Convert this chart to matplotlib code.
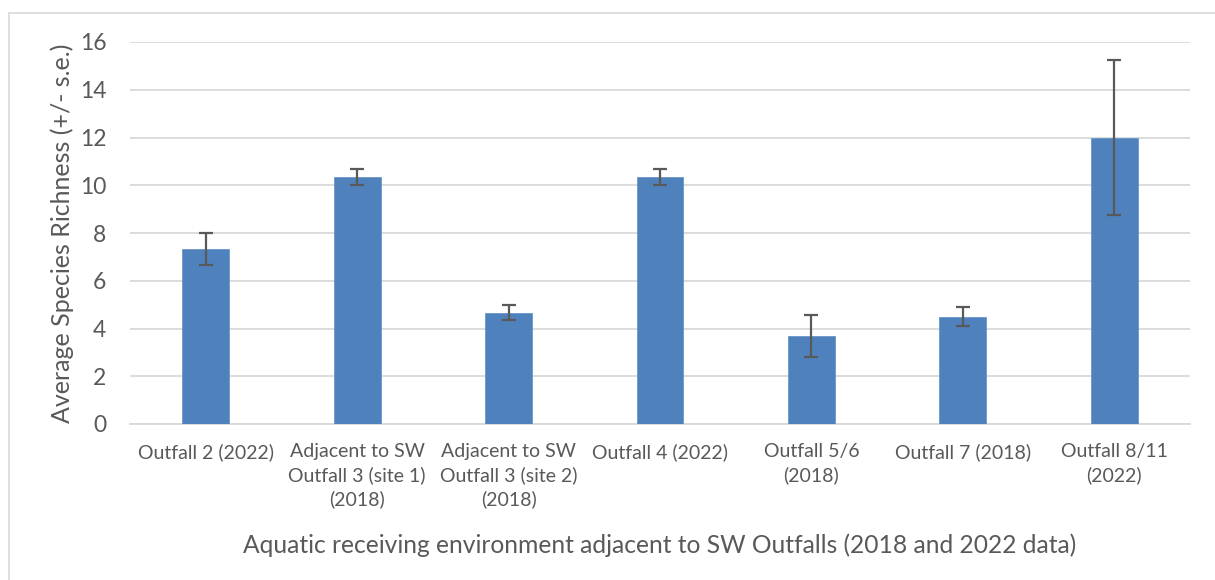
import matplotlib
matplotlib.use('Agg')
import matplotlib.pyplot as plt
from matplotlib.patches import Rectangle
import numpy as np

categories = ['Outfall 2 (2022)',
              'Adjacent to SW\nOutfall 3 (site 1)\n(2018)',
              'Adjacent to SW\nOutfall 3 (site 2)\n(2018)',
              'Outfall 4 (2022)',
              'Outfall 5/6\n(2018)',
              'Outfall 7 (2018)',
              'Outfall 8/11\n(2022)']
richness = [7.33, 10.33, 4.67, 10.33, 3.67, 4.5, 12.0]
std_err = [0.67, 0.33, 0.33, 0.33, 0.88, 0.4, 3.25]

text_color = '#595959'
plt.rcParams['font.family'] = ['Lato', 'DejaVu Sans']

fig = plt.figure(figsize=(12.15, 5.8), dpi=100)
ax = fig.add_axes([130 / 1215, 1 - 424 / 580, 1060 / 1215, (424 - 42) / 580])

x = np.arange(len(categories))
ax.bar(x, richness, width=0.31, color='#4f81bd', edgecolor='#6a95c8', linewidth=0.6, zorder=3)
ax.errorbar(x, richness, yerr=std_err, fmt='none', ecolor='#595959',
            elinewidth=1.6, capsize=5, capthick=1.6, zorder=4)

ax.set_xlim(-0.5, len(categories) - 0.5)
ax.set_ylim(0, 16)
ax.set_yticks(range(0, 17, 2))
ax.set_xticks(x)
ax.set_xticklabels(categories, fontsize=14, color=text_color, linespacing=1.4)
ax.tick_params(axis='y', labelsize=16.5, colors=text_color, length=0, pad=17)
ax.tick_params(axis='x', length=0, pad=14)
ax.grid(axis='y', color='#d9d9d9', linewidth=1.3, zorder=0)
for s in ['top', 'right', 'left']:
    ax.spines[s].set_visible(False)
ax.spines['bottom'].set_color('#d9d9d9')
ax.spines['bottom'].set_linewidth(1.3)

ax.set_ylabel('Average Species Richness (+/- s.e.)', fontsize=18, color=text_color,
              va='center')
ax.yaxis.set_label_coords((62 - 130) / 1060, 0.5)
fig.text(660 / 1215, 1 - 545 / 580,
         'Aquatic receiving environment adjacent to SW Outfalls (2018 and 2022 data)',
         ha='center', va='center', fontsize=17.7, color=text_color)

# chart area border
fig.patches.append(Rectangle((9 / 1215, -0.05), 1.2, 1 - 13 / 580 + 0.05,
                             transform=fig.transFigure, fill=False,
                             edgecolor='#d9d9d9', linewidth=1.2))

fig.savefig('out.png', dpi=100)
